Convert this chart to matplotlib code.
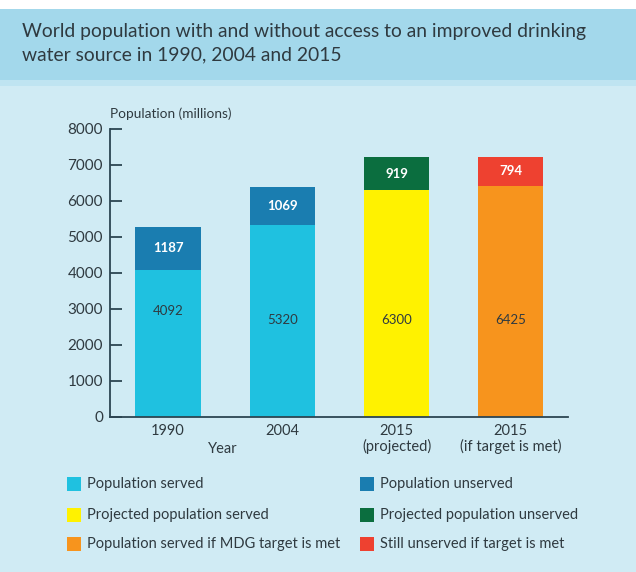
import numpy as np
import matplotlib.pyplot as plt
from matplotlib.patches import Rectangle

plt.rcParams['font.family'] = ['Lato', 'DejaVu Sans']

categories = ['1990', '2004', '2015\n(projected)', '2015\n(if target is met)']
served = [4092, 5320, 6300, 6425]
unserved = [1187, 1069, 919, 794]
served_colors = ['#1fc1e0', '#1fc1e0', '#fff200', '#f7941d']
unserved_colors = ['#1a7db0', '#1a7db0', '#0b6e3f', '#ee4130']
legend_labels = ['Population served', 'Population unserved',
                 'Projected population served', 'Projected population unserved',
                 'Population served if MDG target is met', 'Still unserved if target is met']
legend_colors = ['#1fc1e0', '#1a7db0', '#fff200', '#0b6e3f', '#f7941d', '#ee4130']

txt = '#2f3a40'
axc = '#2c4552'
fig = plt.figure(figsize=(6.36, 5.72), dpi=100)
fig.patch.set_facecolor('#d0ebf4')
# header bands
fig.add_artist(Rectangle((0, 1 - 80/572), 1, 80/572, transform=fig.transFigure,
                         facecolor='#a3d8eb', edgecolor='none', zorder=0))
fig.add_artist(Rectangle((0, 1 - 9/572), 1, 9/572, transform=fig.transFigure,
                         facecolor='white', edgecolor='none', zorder=0))
fig.add_artist(Rectangle((0, 1 - 86/572), 1, 6/572, transform=fig.transFigure,
                         facecolor='#bfe4f1', edgecolor='none', zorder=0))
fig.text(22/636, 1 - 31/572, 'World population with and without access to an improved drinking',
         fontsize=13.9, color=txt, va='center')
fig.text(22/636, 1 - 55/572, 'water source in 1990, 2004 and 2015',
         fontsize=13.9, color=txt, va='center')

ax = fig.add_axes([110/636, 1 - 417/572, 458/636, 288/572])
ax.set_facecolor('none')
x = np.arange(len(categories))
w = 0.57
ax.bar(x, served, w, color=served_colors, zorder=2)
ax.bar(x, unserved, w, bottom=served, color=unserved_colors, zorder=2)

for i in range(len(x)):
    ax.text(x[i], served[i] + unserved[i] / 2, str(unserved[i]), ha='center', va='center',
            color='white', fontsize=9.5, fontweight='bold')
    ax.text(x[i], 2950 if i == 0 else 2700, str(served[i]), ha='center', va='center',
            color=txt, fontsize=9.5)

ax.set_ylim(0, 8000)
ax.set_xlim(-0.508, 3.5)
ax.set_yticks(range(0, 8001, 1000))
ax.set_xticks(x)
ax.set_xticklabels(categories, fontsize=10.5, color=txt, linespacing=1.05)
ax.tick_params(axis='x', length=0, pad=5)
ax.tick_params(axis='y', direction='in', length=8.5, width=1.3, color=axc,
               labelsize=11, labelcolor=txt, pad=5)
for s in ['top', 'right']:
    ax.spines[s].set_visible(False)
for s in ['left', 'bottom']:
    ax.spines[s].set_color(axc)
    ax.spines[s].set_linewidth(1.3)

fig.text(110/636, 1 - 114/572, 'Population (millions)', fontsize=9.8, color=txt, va='center')
fig.text(223/636, 1 - 449/572, 'Year', fontsize=10.5, color=txt, va='center', ha='center')

# legend
rows = [484, 515, 544]
cols = [67, 360]
for k, (lab, col) in enumerate(zip(legend_labels, legend_colors)):
    r, c = k // 2, k % 2
    yy = 1 - rows[r] / 572
    fig.add_artist(Rectangle((cols[c] / 636, yy - 7/572), 14/636, 14/572,
                             transform=fig.transFigure, facecolor=col, edgecolor='none'))
    fig.text((cols[c] + 20) / 636, yy, lab, fontsize=10.5, color=txt, va='center')

plt.savefig('out.png', dpi=100, facecolor=fig.get_facecolor())
